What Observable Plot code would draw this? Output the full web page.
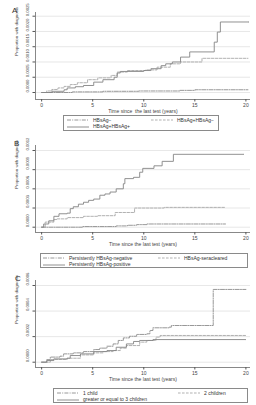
<!DOCTYPE html>
<html>
<head>
<meta charset="utf-8">
<script src="https://cdn.jsdelivr.net/npm/d3@7"></script>
<script src="https://cdn.jsdelivr.net/npm/@observablehq/plot@0.6"></script>
<style>
  body { margin: 0; background: #fff; }
  #fig { position: relative; width: 256px; height: 405px; background: #fff; font-family: "Liberation Sans", Arial, sans-serif; color: #333; overflow: hidden; }
  .pane { position: absolute; left: 0; }
  .letter { position: absolute; font-size: 8px; color: #333; }
  .legend { position: absolute; border: 0.8px solid #8a8a8a; box-sizing: border-box; }
  .item { position: absolute; display: flex; align-items: center; font-size: 5px; line-height: 5px; white-space: nowrap; color: #333; }
  .item svg { margin-right: 4px; }
</style>
</head>
<body>
<div id="fig"></div>
<script>
// Shared x axis
const xTicks = [0, 5, 10, 15, 20];
const xLabelA = "Time since  the last test (years)";
const xLabelBC = "Time since the last test (years)";
const yLabel = "Proportion with diagnosis";

// Panel A — HBsAg status at the two tests
const aTicks = [0, 0.0005, 0.0010, 0.0015, 0.0020, 0.0025];
const aNames = ["HBsAg\u2212", "HBsAg+HBsAg\u2212", "HBsAg+HBsAg+"];
const aNegT = [0, 3.0, 6.0, 9.5, 13.5, 15.0, 20.2];
const aNegV = [0, 0.00002, 0.00004, 0.00005, 0.00007, 0.00009, 0.00009];
const aClearT = [0, 0.5, 1.0, 1.6, 2.2, 2.8, 3.5, 4.5, 5.5, 6.8, 7.4, 8.4, 10.2, 11.3, 12.6, 13.6, 15.7, 20.2];
const aClearV = [0, 0.00005, 0.0001, 0.00015, 0.0002, 0.00026, 0.00032, 0.00042, 0.00048, 0.00056, 0.00067, 0.00072, 0.00074, 0.00083, 0.00094, 0.00100, 0.00112, 0.00112];
const aPosT = [0, 1.0, 2.2, 2.5, 3.3, 4.1, 5.1, 6.0, 7.1, 7.4, 7.7, 10.0, 10.7, 11.7, 12.15, 12.8, 13.6, 14.5, 16.9, 17.2, 17.5, 20.3];
const aPosV = [0, 0.00004, 0.00009, 0.00015, 0.00019, 0.00023, 0.00034, 0.00042, 0.00050, 0.00064, 0.00069, 0.00072, 0.00078, 0.00088, 0.00094, 0.00100, 0.00116, 0.00133, 0.00165, 0.00198, 0.00231, 0.00231];

// Panel B — persistence of HBsAg
const bTicks = [0, 0.0003, 0.0006, 0.0009, 0.0012];
const bNames = ["Persistently HBsAg-negative", "HBsAg-seracleared", "Persistently HBsAg-positive"];
const bNegT = [0, 4.0, 7.3, 8.4, 9.3, 10.3, 18.0];
const bNegV = [0, 0.00001, 0.00002, 0.00003, 0.00004, 0.00005, 0.00005];
const bClearT = [0, 0.35, 1.2, 1.5, 2.5, 4.1, 5.5, 7.2, 9.1, 12.0, 18.0];
const bClearV = [0, 0.00008, 0.00012, 0.00013, 0.00015, 0.00017, 0.00018, 0.00023, 0.00030, 0.00031, 0.00031];
const bPosT = [0, 0.2, 0.7, 1.2, 1.7, 2.5, 2.8, 3.1, 3.6, 4.1, 4.6, 5.1, 5.7, 6.2, 6.7, 7.3, 8.0, 8.15, 9.0, 9.6, 9.9, 11.0, 11.8, 12.9, 19.8];
const bPosV = [0, 0.00005, 0.00010, 0.00017, 0.00021, 0.00022, 0.00029, 0.00032, 0.00036, 0.00039, 0.00042, 0.00044, 0.00050, 0.00052, 0.00055, 0.00060, 0.00068, 0.00076, 0.00078, 0.00086, 0.00092, 0.00096, 0.00103, 0.00114, 0.00114];

// Panel C — number of children
const cTicks = [0, 0.0002, 0.0004, 0.0006];
const cNames = ["1 child", "2 children", "greater or equal to 3 children"];
const cOneT = [0, 0.5, 0.85, 1.8, 2.15, 3.1, 4.1, 5.1, 5.7, 6.4, 7.0, 7.5, 8.0, 8.6, 9.3, 10.3, 10.6, 10.9, 12.5, 12.7, 16.8, 20.0];
const cOneV = [0, 0.00002, 0.00004, 0.000047, 0.000065, 0.000073, 0.000083, 0.000099, 0.00011, 0.000125, 0.000143, 0.00017, 0.00019, 0.000203, 0.000217, 0.000222, 0.000248, 0.000269, 0.000274, 0.000287, 0.000569, 0.000569];
const cTwoT = [0, 0.85, 2.5, 3.8, 5.1, 6.0, 7.0, 7.7, 8.3, 9.6, 10.3, 11.2, 11.6, 20.0];
const cTwoV = [0, 0.000021, 0.000031, 0.000057, 0.000073, 0.000083, 0.000091, 0.00011, 0.00013, 0.000157, 0.00017, 0.000196, 0.000209, 0.000209];
const cThreeT = [0, 0.5, 1.2, 2.5, 2.8, 3.8, 5.1, 6.4, 7.3, 8.3, 9.0, 9.6, 10.9, 20.0];
const cThreeV = [0, 0.000013, 0.000026, 0.000031, 0.000052, 0.000065, 0.000083, 0.000091, 0.000117, 0.000143, 0.000162, 0.00017, 0.000177, 0.000177];

// Line styles: dash-dot, dash, solid
const styles = [
  {stroke: "#8c8c8c", dash: "4,1.2,1,1.2"},
  {stroke: "#a8a8a8", dash: "2.6,1.4"},
  {stroke: "#858585", dash: null}
];

const rows = (T, V) => T.map((t, i) => ({t, v: V[i]}));

const W = 256, H = 118, ML = 35, MR = 6, MT = 12, MB = 19;
const xDomain = [-0.6, 20.45];

function panel(yDomain, yTicks, series, xLabel) {
  const fmt = d3.format(".4f");
  const marks = [
    Plot.gridY(yTicks, {stroke: "#dcdcdc", strokeOpacity: 1, strokeWidth: 0.7}),
    Plot.ruleX([xDomain[0]], {stroke: "#555", strokeWidth: 0.7}),
    Plot.ruleY([yDomain[0]], {stroke: "#555", strokeWidth: 0.7}),
    Plot.axisX({ticks: xTicks, tickSize: 2.5, tickPadding: 1.5, label: null, fontSize: 5, stroke: "#555"}),
    Plot.axisY({ticks: yTicks, tickSize: 2.5, tickFormat: () => "", label: null, stroke: "#555"}),
    Plot.text(yTicks, {y: d => d, text: d => fmt(d), frameAnchor: "left", dx: -8, rotate: -90, fontSize: 4.2, fill: "#444"}),
    Plot.text([yLabel], {text: d => d, frameAnchor: "left", dx: -19, rotate: -90, fontSize: 4.4, fill: "#444"}),
    Plot.text([xLabel], {text: d => d, frameAnchor: "bottom", dy: 13.5, fontSize: 5, fill: "#444"})
  ];
  series.forEach((s, i) => {
    marks.push(Plot.line(s, {x: "t", y: "v", curve: "step-after", stroke: styles[i].stroke, strokeWidth: 0.9, strokeDasharray: styles[i].dash}));
  });
  return Plot.plot({
    width: W, height: H,
    marginLeft: ML, marginRight: MR, marginTop: MT, marginBottom: MB,
    x: {domain: xDomain},
    y: {domain: yDomain},
    style: {background: "transparent", fontFamily: "Liberation Sans, Arial, sans-serif", fontSize: "5px", color: "#444", overflow: "visible"},
    marks
  });
}

function sample(style) {
  return `<svg width="22" height="4"><line x1="0" y1="2" x2="22" y2="2" stroke="${style.stroke}" stroke-width="0.9" ${style.dash ? `stroke-dasharray="${style.dash}"` : ""}/></svg>`;
}

const fig = document.getElementById("fig");

function addPanel(letter, top, plot, letterPos, box, items) {
  const pane = document.createElement("div");
  pane.className = "pane";
  pane.style.top = top + "px";
  pane.appendChild(plot);
  fig.appendChild(pane);

  const l = document.createElement("div");
  l.className = "letter";
  l.textContent = letter;
  l.style.left = letterPos[0] + "px";
  l.style.top = letterPos[1] + "px";
  fig.appendChild(l);

  const lg = document.createElement("div");
  lg.className = "legend";
  Object.assign(lg.style, {left: box[0] + "px", top: box[1] + "px", width: box[2] + "px", height: box[3] + "px"});
  fig.appendChild(lg);

  items.forEach(it => {
    const d = document.createElement("div");
    d.className = "item";
    d.style.left = it.x + "px";
    d.style.top = it.y + "px";
    d.innerHTML = sample(styles[it.s]) + `<span>${it.text}</span>`;
    fig.appendChild(d);
  });
}

// Panel A
addPanel("A", 0,
  panel([-0.000229, 0.002621], aTicks, [rows(aNegT, aNegV), rows(aClearT, aClearV), rows(aPosT, aPosV)], xLabelA),
  [12, 6], [63, 115, 156, 16],
  [
    {x: 67, y: 117.5, s: 0, text: aNames[0]},
    {x: 151, y: 117.5, s: 1, text: aNames[1]},
    {x: 67, y: 124, s: 2, text: aNames[2]}
  ]);

// Panel B
addPanel("B", 133,
  panel([-0.000083, 0.001278], bTicks, [rows(bNegT, bNegV), rows(bClearT, bClearV), rows(bPosT, bPosV)], xLabelBC),
  [14, 139], [40, 253, 208, 15],
  [
    {x: 43, y: 255.5, s: 0, text: bNames[0]},
    {x: 158, y: 255.5, s: 1, text: bNames[1]},
    {x: 43, y: 262, s: 2, text: bNames[2]}
  ]);

// Panel C
addPanel("C", 268,
  panel([-0.0000415, 0.000639], cTicks, [rows(cOneT, cOneV), rows(cTwoT, cTwoV), rows(cThreeT, cThreeV)], xLabelBC),
  [15, 274], [53, 388, 195, 15],
  [
    {x: 57, y: 390.5, s: 0, text: cNames[0]},
    {x: 178, y: 390.5, s: 1, text: cNames[1]},
    {x: 57, y: 397, s: 2, text: cNames[2]}
  ]);
</script>
</body>
</html>
